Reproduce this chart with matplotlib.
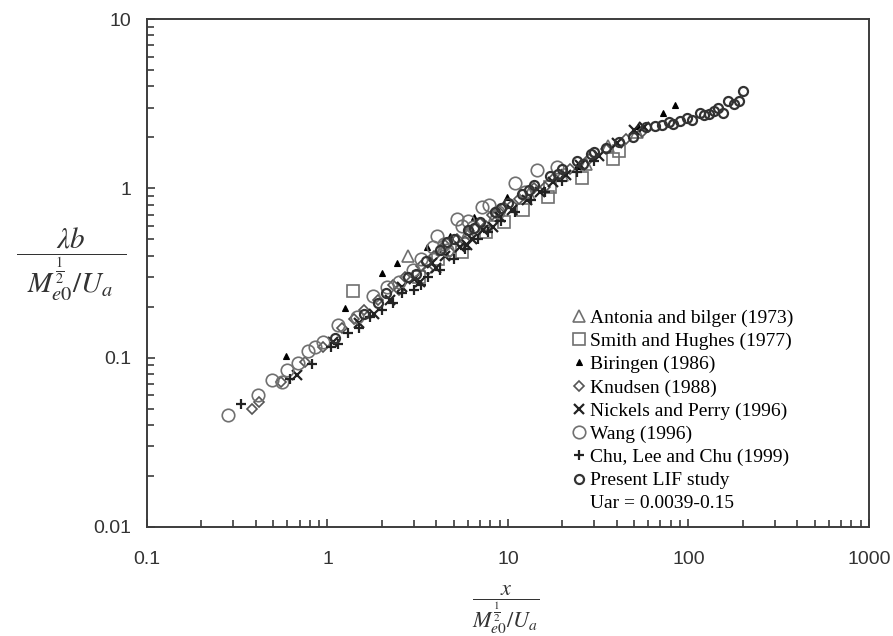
import matplotlib

matplotlib.use("Agg")
import matplotlib.pyplot as plt
from matplotlib.lines import Line2D
from matplotlib.ticker import LogLocator, NullFormatter, FixedLocator, FixedFormatter

plt.rcParams["mathtext.fontset"] = "stix"

# values (x, lambda*b normalised)
antonia_x = [2.8, 4.3, 6.0, 8.5, 13, 20, 27, 36, 52]
antonia_y = [0.40, 0.44, 0.55, 0.70, 0.92, 1.20, 1.40, 1.78, 2.15]

smith_x = [1.38, 3.2, 4.1, 5.6, 7.6, 9.5, 12.1, 16.6, 17.0, 25.7, 38, 41]
smith_y = [0.248, 0.30, 0.38, 0.42, 0.55, 0.63, 0.745, 0.89, 1.02, 1.15, 1.50, 1.67]

biringen_x = [0.59, 1.25, 2.0, 2.43, 3.55, 4.8, 6.5, 9.9, 24, 52.5, 72, 84]
biringen_y = [0.102, 0.197, 0.316, 0.362, 0.45, 0.52, 0.68, 0.89, 1.35, 2.33, 2.79, 3.11]

knudsen_x = [0.38, 0.42, 0.55, 0.75, 0.95, 1.2, 1.6, 1.9, 2.3, 2.7, 3.3, 3.9, 4.5,
             5.2, 6.1, 7.0, 8.2, 9.5, 11.5, 14, 18, 22, 28, 35, 45, 55,
             1.4, 2.5, 3.6, 4.8, 5.8, 7.6, 10.5, 16]
knudsen_y = [0.050, 0.055, 0.072, 0.094, 0.115, 0.15, 0.19, 0.22, 0.27, 0.30, 0.35,
             0.40, 0.46, 0.50, 0.56, 0.62, 0.70, 0.78, 0.86, 1.00, 1.15, 1.30, 1.50,
             1.70, 1.95, 2.15,
             0.17, 0.25, 0.33, 0.42, 0.49, 0.60, 0.80, 1.02]

nickels_x = [0.68, 1.07, 1.5, 2.22, 3.0, 3.27, 3.8, 4.5, 5.4, 6.3, 7.3, 8.3, 9.0,
             10.5, 12.7, 15, 17.7, 21, 25, 32, 40, 50, 57, 1.8, 2.6, 4.0, 5.9]
nickels_y = [0.079, 0.124, 0.16, 0.22, 0.29, 0.28, 0.36, 0.40, 0.45, 0.50, 0.57, 0.59,
             0.68, 0.74, 0.85, 0.95, 1.09, 1.20, 1.38, 1.55, 1.85, 2.20, 2.30, 0.18,
             0.26, 0.34, 0.46]

wang_x = [0.28, 0.41, 0.49, 0.56, 0.60, 0.69, 0.78, 0.85, 0.94, 1.14, 1.46, 1.79,
          2.14, 2.97, 3.84, 4.05, 4.4, 5.2, 5.6, 6.4, 7.2, 7.9, 10.9, 14.5, 18.7,
          2.5, 3.3, 4.6, 6.0, 8.8, 12.5]
wang_y = [0.046, 0.060, 0.074, 0.072, 0.085, 0.093, 0.11, 0.116, 0.124, 0.156, 0.174,
          0.23, 0.26, 0.33, 0.45, 0.52, 0.47, 0.66, 0.60, 0.59, 0.78, 0.80, 1.07,
          1.28, 1.33, 0.28, 0.38, 0.43, 0.64, 0.72, 0.95]

chu_x = [0.33, 0.62, 0.82, 1.05, 1.30, 1.71, 2.0, 2.6, 3.0, 3.6, 4.2, 5.0, 5.8, 6.8,
         7.8, 9.2, 11, 13.5, 16, 20, 24, 30, 1.15, 1.5, 2.3, 3.3]
chu_y = [0.053, 0.075, 0.092, 0.115, 0.14, 0.174, 0.19, 0.24, 0.25, 0.30, 0.33, 0.38,
         0.44, 0.50, 0.55, 0.64, 0.72, 0.85, 0.95, 1.10, 1.25, 1.45, 0.12, 0.15,
         0.21, 0.27]

present_x = [1.1, 1.6, 2.1, 2.8, 3.5, 4.2, 5.0, 6.0, 7.0, 8.5, 10, 12, 14, 17, 20, 24,
             29, 30, 35, 41, 49, 58, 65, 71, 78, 82, 90, 98, 105, 116, 122, 130, 138,
             145, 155, 165, 180, 191, 200, 1.9, 3.1, 4.6, 6.5, 9.2, 13, 19, 26]
present_y = [0.13, 0.18, 0.24, 0.30, 0.37, 0.43, 0.50, 0.57, 0.63, 0.72, 0.82, 0.93,
             1.05, 1.18, 1.30, 1.45, 1.60, 1.65, 1.72, 1.89, 2.00, 2.30, 2.35, 2.37,
             2.45, 2.40, 2.50, 2.60, 2.55, 2.78, 2.70, 2.76, 2.85, 2.98, 2.80, 3.30,
             3.15, 3.30, 3.76, 0.21, 0.31, 0.48, 0.58, 0.77, 0.98, 1.22, 1.40]

decades = [0.1, 1, 10, 100, 1000]
decade_labels = ["0.1", "1", "10", "100", "1000"]
y_decades = [0.01, 0.1, 1, 10]
y_decade_labels = ["0.01", "0.1", "1", "10"]

AX = "#3c3c3c"
GRAY = "#707070"

fig = plt.figure(figsize=(8.93, 6.36), dpi=100)
ax = fig.add_axes([0.1646, 0.1714, 0.8084, 0.7987])

series = [
    (antonia_x, antonia_y, dict(marker="^", ms=8, mfc="none", mec=GRAY, mew=1.2),
     "Antonia and bilger (1973)"),
    (smith_x, smith_y, dict(marker="s", ms=8, mfc="none", mec=GRAY, mew=1.2),
     "Smith and Hughes (1977)"),
    (biringen_x, biringen_y, dict(marker="^", ms=5, mfc="black", mec="black", mew=0.8),
     "Biringen (1986)"),
    (knudsen_x, knudsen_y, dict(marker="D", ms=5, mfc="none", mec="#555555", mew=1.2),
     "Knudsen (1988)"),
    (nickels_x, nickels_y, dict(marker="x", ms=7, mec="#222222", mew=1.6),
     "Nickels and Perry (1996)"),
    (wang_x, wang_y, dict(marker="o", ms=9, mfc="none", mec=GRAY, mew=1.2),
     "Wang (1996)"),
    (chu_x, chu_y, dict(marker="+", ms=7, mec="#222222", mew=1.6),
     "Chu, Lee and Chu (1999)"),
    (present_x, present_y, dict(marker="o", ms=6.5, mfc="none", mec="#333333", mew=1.6),
     "Present LIF study"),
]

handles = []
for xs, ys, style, label in series:
    h, = ax.plot(xs, ys, linestyle="none", label=label, **style)
    handles.append(h)
handles.append(Line2D([], [], linestyle="none", marker="none", label="Uar = 0.0039-0.15"))

ax.set_xscale("log")
ax.set_yscale("log")
ax.set_xlim(0.1, 1000)
ax.set_ylim(0.01, 10)

ax.xaxis.set_major_locator(FixedLocator(decades))
ax.xaxis.set_major_formatter(FixedFormatter(decade_labels))
ax.yaxis.set_major_locator(FixedLocator(y_decades))
ax.yaxis.set_major_formatter(FixedFormatter(y_decade_labels))
for axis in (ax.xaxis, ax.yaxis):
    axis.set_minor_locator(LogLocator(base=10, subs=range(2, 10)))
    axis.set_minor_formatter(NullFormatter())

ax.tick_params(which="both", direction="in", top=False, right=False,
               color=AX, width=1.2, labelcolor="#333333")
ax.tick_params(which="major", length=6, labelsize=14)
ax.tick_params(which="minor", length=5)
ax.tick_params(axis="x", which="major", pad=17)
ax.tick_params(axis="y", which="major", pad=11)
for lab in ax.get_xticklabels() + ax.get_yticklabels():
    lab.set_family(["Liberation Sans", "DejaVu Sans"])
for s in ax.spines.values():
    s.set_color(AX)
    s.set_linewidth(1.4)

leg = ax.legend(handles=handles, loc="upper left", bbox_to_anchor=(0.578, 0.444),
                frameon=False, prop={"family": "Liberation Serif", "size": 14},
                labelspacing=0.285, handletextpad=0.2, handlelength=0.7,
                borderaxespad=0)

fig.text(0.080, 0.585, r"$\dfrac{\lambda b}{\;\;M_{e0}^{\frac{1}{2}}/U_a\;\;}$",
         ha="center", va="center", fontsize=21, color="#333333")
fig.text(0.566, 0.042, r"$\dfrac{x}{M_{e0}^{\frac{1}{2}}/U_a}$",
         ha="center", va="center", fontsize=16, color="#333333")

fig.savefig("out.png", dpi=100)
